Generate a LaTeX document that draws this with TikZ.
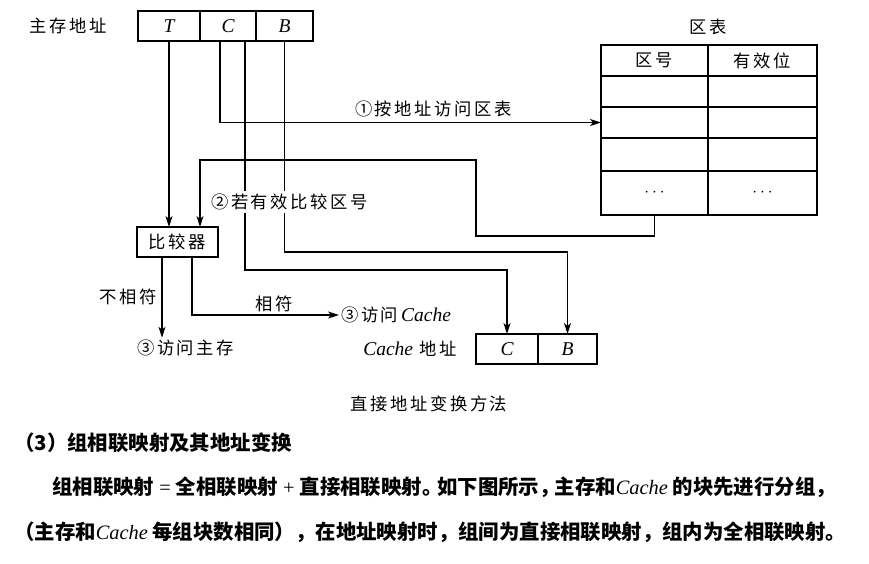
\documentclass[tikz,border=0pt]{standalone}
\usepackage{fontspec}
\setmainfont{Liberation Serif}
\newfontfamily\cjk[LetterSpace=15]{Noto Sans CJK SC}
\newfontfamily\cjkpara{Noto Sans CJK SC}
\usetikzlibrary{positioning,arrows.meta}
\newcommand{\lat}[1]{{\rmfamily\mdseries\itshape #1}}
\newcommand{\latd}[1]{{\rmfamily\itshape\fontsize{19.5}{20}\selectfont #1}}

\begin{document}
\begin{tikzpicture}[x=1pt, y=-1pt,
  txt/.style={font=\cjk\fontsize{17.3}{20}\selectfont, inner sep=2pt},
  field/.style={draw, line width=1.1pt, outer sep=0pt, minimum height=30pt, inner sep=0pt, font=\fontsize{19.5}{20}\selectfont\itshape},
  cell/.style={draw, line width=1.1pt, outer sep=0pt, inner sep=0pt, font=\cjk\fontsize{17.3}{20}\selectfont},
  arrow/.style={-{Stealth[length=11pt,width=7pt,inset=3pt]}, line width=1.1pt},
  para/.style={anchor=west, inner sep=0pt, font=\cjkpara\bfseries\fontsize{20.4}{24}\selectfont}
]
\useasboundingbox (0,0) rectangle (869,563);

% main memory address
\node[field, minimum width=62pt] (addrT) at (169,26) {T};
\node[field, minimum width=56pt, right=0pt of addrT] (addrC) {C};
\node[field, minimum width=57pt, right=0pt of addrC] (addrB) {B};
\node[txt, left=29pt of addrT] (mainaddr) {主存地址};

% zone table
\node[cell, minimum width=107pt, minimum height=31pt] (hdA) at (654.5,60.5) {区号};
\node[cell, minimum width=109pt, minimum height=31pt, right=0pt of hdA] (hdB) {有效位};
\foreach \r/\h [remember=\r as \p (initially hd)] in {r1/31, r2/31, r3/33} {
  \node[cell, minimum width=107pt, minimum height=\h pt, below=0pt of \p A] (\r A) {};
  \node[cell, minimum width=109pt, minimum height=\h pt, right=0pt of \r A] (\r B) {};
}
\node[cell, minimum width=107pt, minimum height=44pt, below=0pt of r3A] (r4A) {$\cdots$};
\node[cell, minimum width=109pt, minimum height=44pt, right=0pt of r4A] (r4B) {$\cdots$};
\node[txt, above=7.5pt of hdA.north east] (tabtitle) {区表};

% comparator and cache address
\node[cell, minimum width=81pt, minimum height=30pt] (cmp) at (177.5,242) {比较器};
\node[field, minimum width=62pt] (cacheC) at (507,349) {C};
\node[field, minimum width=59pt, right=0pt of cacheC] (cacheB) {B};
\node[txt, left=17pt of cacheC] (cacheaddr) {\latd{Cache}\ 地址};
\node[txt, anchor=west] (tomem) at (135,348) {③访问主存};
\node[txt, anchor=west] (tocache) at (339,315) {③访问\,\latd{Cache}};
\coordinate (loopturn) at (476,160);

\draw[arrow] (addrT) -- (addrT |- cmp.north);
\draw[arrow] ([xshift=-8pt]addrC.south) |- node[txt, pos=0.78, above=3pt] {①按地址访问区表} (r2A.west);
\draw[arrow] ([xshift=17pt]addrC.south) -- ++(0,229) -| (cacheC.north);
\draw[arrow] (addrB.south) -- ++(0,211) -| (cacheB.north);
\draw[arrow] (r4A.south) -- ++(0,21) -| (loopturn) -| ([xshift=22.5pt]cmp.north);
\node[txt, fill=white, inner xsep=1pt, inner ysep=3pt, anchor=west] (cmplabel) at (210,202) {②若有效比较区号};

\draw[arrow] ([xshift=-15.5pt]cmp.south) -- ([xshift=-15.5pt]cmp.south |- tomem.north) node[txt, midway, left=3pt] {不相符};
\draw[arrow] ([xshift=14.5pt]cmp.south) |- node[txt, pos=0.78, above=1pt] {相符} (tocache.west);

\node[txt] (caption) at (429,404) {直接地址变换方法};

% text below the figure
\node[para] (sec) at (14,443) {（3）组相联映射及其地址变换};
\node[para] (body1) at (52,487) {组相联映射{\rmfamily\mdseries\ =\ }全相联映射{\rmfamily\mdseries\ +\ }直接相联映射。\kern-.25em 如下图所示，\kern-.25em 主存和\lat{Cache}\ 的块先进行分组，};
\node[para] (body2) at (14,532) {（主存和\lat{Cache}\ 每组块数相同），在地址映射时，组间为直接相联映射，组内为全相联映射。};
\end{tikzpicture}
\end{document}
